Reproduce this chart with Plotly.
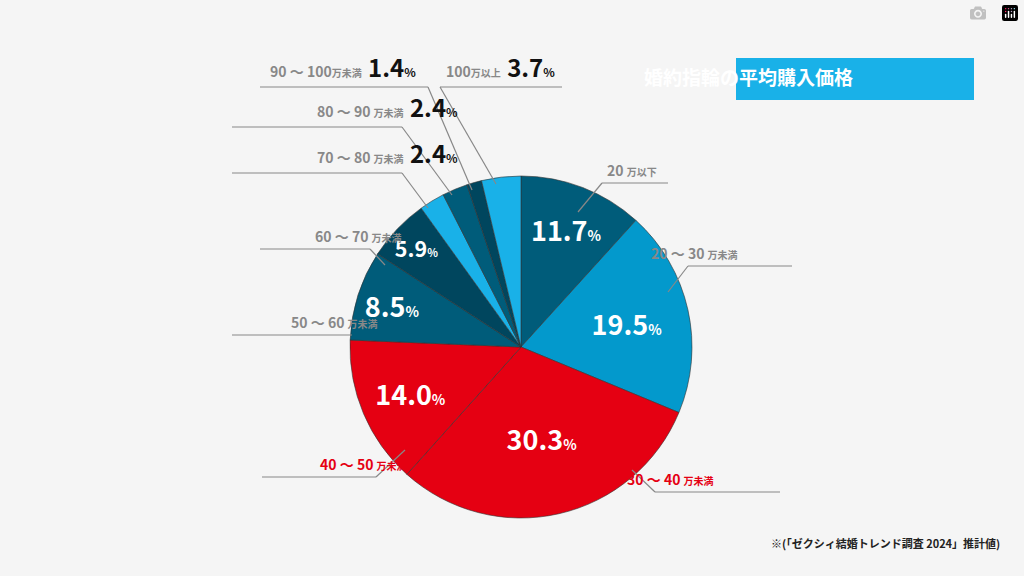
import plotly.graph_objects as go

# data, clockwise from 12 o'clock
categories = ["20万以下", "20～30万未満", "30～40万未満", "40～50万未満", "50～60万未満",
              "60～70万未満", "70～80万未満", "80～90万未満", "90～100万未満", "100万以上"]
shares = [11.7, 19.5, 30.3, 14.0, 8.5, 5.9, 2.4, 2.4, 1.4, 3.7]
colors = ["#005c7a", "#0399cc", "#e50012", "#e50012", "#005c7a",
          "#00465e", "#19b1e8", "#005c7a", "#00465e", "#19b1e8"]
inside_text = [f"{v:.1f}" if v >= 5 else "" for v in shares]

W, H = 1024, 576
FONT = "Noto Sans CJK JP"


def px(x, y):
    return x / W, 1 - y / H


fig = go.Figure(go.Pie(
    values=shares, labels=categories, sort=False, direction="clockwise", rotation=0,
    marker=dict(colors=colors, line=dict(color="#333333", width=0.6)),
    customdata=inside_text,
    texttemplate=["<b>%{customdata}</b><span style='font-size:14px'><b>%</b></span>" if t else ""
                  for t in inside_text],
    textposition="inside", insidetextorientation="horizontal",
    textfont=dict(color="white", size=27, family=FONT),
    showlegend=False, hoverinfo="label+percent",
    domain=dict(x=[(521 - 171) / W, (521 + 171) / W], y=[1 - 518 / H, 1 - 176 / H]),
))

GRAY = "#888888"
RED = "#e50012"
BIG = "  <span style='color:#111;font-size:24px'><b>{}</b></span><span style='color:#111;font-size:12px'><b>%</b></span>"
# (label html, text x, underline x0, x1, underline y, leader end x, y, colour)
outer = [
    ("20 <span style='font-size:10px'>万以下</span>", 632, 602, 668, 183, 578, 212, GRAY),
    ("20 ～ 30 <span style='font-size:10px'>万未満</span>", 740, 688, 792, 266, 668, 292, GRAY),
    ("30 ～ 40 <span style='font-size:10px'>万未満</span>", 716, 655, 780, 492, 632, 470, RED),
    ("40 ～ 50 <span style='font-size:10px'>万未満</span>", 318, 262, 376, 477, 405, 450, RED),
    ("50 ～ 60 <span style='font-size:10px'>万未満</span>", 289, 232, 352, 335, 352, 335, GRAY),
    ("60 ～ 70 <span style='font-size:10px'>万未満</span>", 313, 260, 370, 249, 385, 265, GRAY),
    ("70 ～ 80 <span style='font-size:10px'>万未満</span>" + BIG.format("2.4"), 315, 232, 402, 173, 428, 208, GRAY),
    ("80 ～ 90 <span style='font-size:10px'>万未満</span>" + BIG.format("2.4"), 315, 232, 402, 127, 452, 195, GRAY),
    ("90 ～ 100<span style='font-size:10px'>万未満</span>" + BIG.format("1.4"), 343, 260, 428, 87, 472, 190, GRAY),
    ("100<span style='font-size:10px'>万以上</span>" + BIG.format("3.7"), 500, 440, 562, 87, 496, 184, GRAY),
]

shapes, annotations = [], []
for text, tx, ux0, ux1, uy, lx, ly, col in outer:
    x, y = px(tx, uy - 1)
    annotations.append(dict(x=x, y=y, xref="paper", yref="paper", yanchor="bottom",
                            text=f"<b>{text}</b>", showarrow=False,
                            font=dict(size=14, color=col, family=FONT)))
    a0, b0 = px(ux0, uy)
    a1, b1 = px(ux1, uy)
    shapes.append(dict(type="line", xref="paper", yref="paper", x0=a0, y0=b0, x1=a1, y1=b1,
                       line=dict(color=GRAY, width=1.2)))
    if (lx, ly) != (ux1, uy):
        sx = ux1 if lx > ux1 else ux0
        s0, t0 = px(sx, uy)
        e0, f0 = px(lx, ly)
        shapes.append(dict(type="line", xref="paper", yref="paper", x0=s0, y0=t0, x1=e0, y1=f0,
                           line=dict(color=GRAY, width=1.2)))

x0, y0 = px(736, 58)
x1, y1 = px(974, 100)
shapes.append(dict(type="rect", xref="paper", yref="paper", x0=x0, y0=y0, x1=x1, y1=y1,
                   fillcolor="#19b1e8", line=dict(width=0)))
annotations.append(dict(x=(x0 + x1) / 2, y=px(0, 92)[1], xref="paper", yref="paper",
                        yanchor="bottom", text="<b>婚約指輪の平均購入価格</b>", showarrow=False,
                        font=dict(size=19, color="white", family=FONT)))
fx, fy = px(1002, 553)
annotations.append(dict(x=fx, y=fy, xref="paper", yref="paper", xanchor="right", yanchor="bottom",
                        text="<b>※(「ゼクシィ結婚トレンド調査 2024」推計値)</b>", showarrow=False,
                        font=dict(size=11, color="#222222", family=FONT)))

fig.update_layout(width=W, height=H, margin=dict(l=0, r=0, t=0, b=0),
                  paper_bgcolor="#f5f5f5", plot_bgcolor="#f5f5f5",
                  shapes=shapes, annotations=annotations, font=dict(family=FONT))
fig.write_html("out.html", post_script="document.body.style.margin='0';document.body.style.background='#f5f5f5';")
